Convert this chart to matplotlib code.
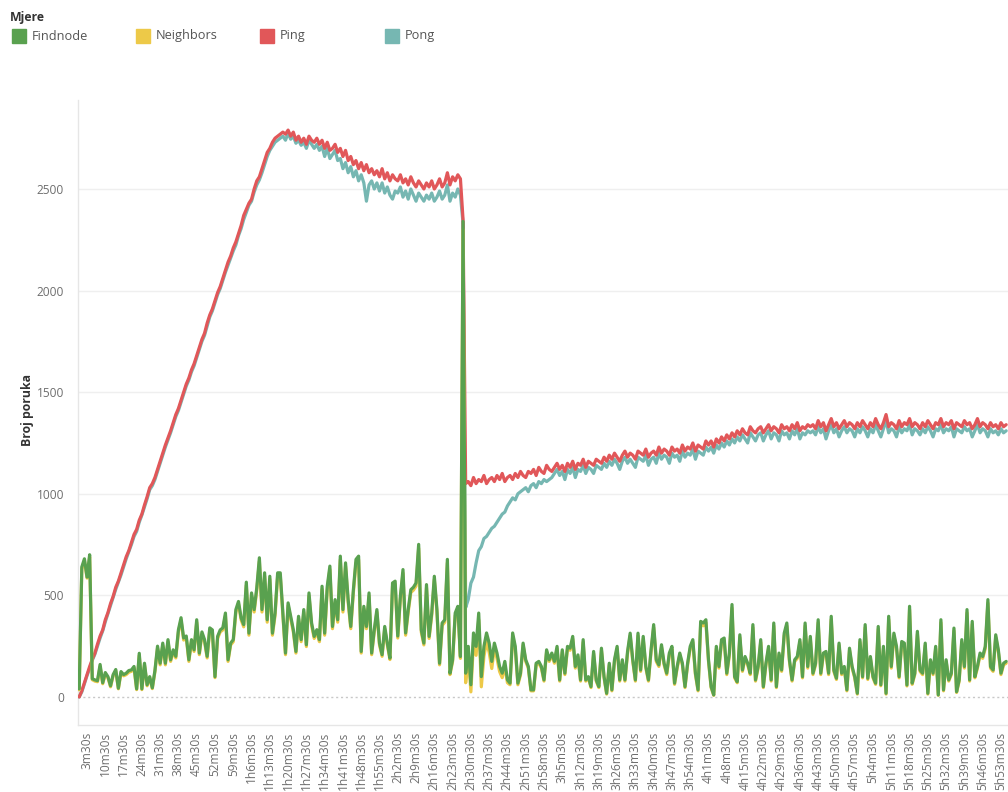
import matplotlib
matplotlib.use("Agg")
import matplotlib.pyplot as plt
from matplotlib.patches import Rectangle
import numpy as np

plt.rcParams['font.family'] = ['Open Sans', 'DejaVu Sans']

# ---- data: one value per minute, sample i = minute i + 30 s ----
findnode = [
    40, 640, 680, 590, 700, 90, 84, 80, 160, 70,
    120, 100, 55, 110, 135, 43, 125, 110, 117, 130,
    133, 150, 40, 215, 40, 166, 60, 100, 45, 130,
    250, 166, 265, 166, 282, 183, 232, 200, 331, 390,
    290, 300, 183, 282, 232, 380, 216, 320, 282, 200,
    340, 330, 100, 298, 330, 340, 413, 183, 265, 282,
    430, 470, 390, 356, 565, 314, 512, 430, 537, 685,
    430, 611, 380, 594, 314, 413, 611, 611, 413, 216,
    463, 397, 331, 224, 397, 282, 430, 257, 512, 364,
    298, 331, 282, 545, 314, 545, 644, 347, 479, 380,
    693, 430, 660, 479, 347, 528, 677, 693, 224, 446,
    347, 512, 216, 331, 430, 265, 208, 347, 265, 191,
    561, 570, 300, 496, 627, 315, 430, 528, 540, 561,
    751, 331, 265, 553, 298, 413, 594, 430, 166, 364,
    380, 677, 117, 183, 413, 446, 199, 2340, 117, 249,
    60, 315, 249, 413, 100, 249, 315, 265, 175, 265,
    216, 150, 117, 175, 84, 68, 315, 249, 68, 117,
    265, 183, 150, 35, 35, 166, 175, 150, 84, 232,
    183, 216, 175, 249, 84, 232, 117, 249, 240, 298,
    150, 207, 84, 282, 84, 100, 51, 224, 84, 51,
    240, 100, 18, 166, 35, 183, 249, 84, 183, 84,
    224, 314, 183, 84, 314, 133, 298, 150, 84, 232,
    356, 183, 158, 257, 166, 117, 216, 249, 68, 150,
    216, 166, 51, 166, 249, 282, 117, 35, 372, 364,
    380, 183, 51, 10, 249, 150, 282, 290, 117, 216,
    455, 100, 75, 306, 133, 199, 166, 117, 356, 84,
    150, 282, 51, 166, 249, 84, 364, 51, 216, 133,
    314, 364, 183, 84, 183, 199, 282, 100, 364, 150,
    298, 117, 166, 380, 117, 216, 224, 117, 397, 133,
    92, 265, 117, 150, 35, 240, 150, 100, 18, 282,
    100, 356, 92, 199, 100, 68, 347, 60, 249, 18,
    397, 150, 314, 249, 100, 273, 265, 59, 446, 68,
    117, 323, 133, 117, 265, 18, 183, 117, 249, 10,
    380, 35, 183, 84, 117, 339, 26, 84, 282, 150,
    430, 84, 372, 100, 150, 216, 199, 249, 479, 150,
    133, 306, 232, 117, 166, 175,
]

neighbors = [
    35, 630, 670, 585, 690, 85, 78, 75, 150, 65,
    112, 95, 50, 104, 128, 40, 118, 104, 110, 122,
    126, 142, 36, 205, 36, 158, 55, 94, 41, 124,
    240, 158, 255, 158, 272, 175, 222, 192, 320, 378,
    280, 290, 175, 272, 224, 368, 208, 310, 272, 192,
    330, 320, 95, 288, 320, 330, 400, 175, 256, 272,
    418, 458, 380, 345, 550, 304, 498, 418, 524, 668,
    418, 596, 368, 580, 304, 400, 596, 596, 400, 208,
    450, 385, 320, 216, 385, 272, 418, 248, 498, 352,
    288, 320, 272, 530, 304, 530, 628, 336, 466, 368,
    676, 418, 644, 466, 336, 514, 660, 676, 216, 434,
    336, 498, 208, 320, 418, 256, 200, 336, 256, 184,
    546, 555, 290, 482, 610, 304, 418, 514, 526, 546,
    732, 320, 256, 538, 288, 400, 578, 418, 158, 352,
    368, 660, 110, 175, 400, 434, 190, 2300, 70, 215,
    25, 270, 205, 380, 50, 200, 270, 220, 140, 240,
    190, 125, 95, 150, 70, 60, 300, 235, 60, 108,
    255, 175, 142, 30, 30, 158, 166, 142, 78, 222,
    175, 206, 166, 238, 78, 222, 110, 238, 230, 286,
    142, 198, 78, 270, 78, 94, 46, 214, 78, 46,
    230, 94, 14, 158, 30, 175, 238, 78, 175, 78,
    214, 302, 175, 78, 302, 126, 286, 142, 78, 222,
    342, 175, 150, 246, 158, 110, 206, 238, 62, 142,
    206, 158, 46, 158, 238, 270, 110, 30, 358, 350,
    366, 175, 46, 8, 238, 142, 270, 278, 110, 206,
    438, 94, 70, 294, 126, 190, 158, 110, 342, 78,
    142, 270, 46, 158, 238, 78, 350, 46, 206, 126,
    302, 350, 175, 78, 175, 190, 270, 94, 350, 142,
    286, 110, 158, 366, 110, 206, 214, 110, 382, 126,
    86, 254, 110, 142, 30, 230, 142, 94, 14, 270,
    94, 342, 86, 190, 94, 62, 334, 55, 238, 14,
    382, 142, 302, 238, 94, 262, 254, 54, 430, 62,
    110, 310, 126, 110, 254, 14, 175, 110, 238, 8,
    366, 30, 175, 78, 110, 326, 22, 78, 270, 142,
    414, 78, 358, 94, 142, 206, 190, 238, 462, 142,
    126, 294, 222, 110, 158, 166,
]

ping = [
    0, 30, 70, 110, 150, 185, 215, 260, 300, 330,
    380, 415, 460, 495, 540, 570, 610, 650, 690, 720,
    760, 800, 825, 870, 900, 945, 985, 1030, 1050, 1080,
    1120, 1160, 1200, 1240, 1275, 1310, 1350, 1390, 1420, 1460,
    1500, 1540, 1570, 1610, 1640, 1680, 1720, 1760, 1790, 1840,
    1880, 1910, 1950, 1990, 2020, 2060, 2100, 2140, 2170, 2210,
    2240, 2280, 2320, 2370, 2400, 2430, 2450, 2500, 2540, 2560,
    2600, 2640, 2680, 2700, 2730, 2750, 2760, 2770, 2780, 2770,
    2790, 2760, 2780, 2740, 2760, 2730, 2750, 2720, 2760, 2740,
    2730, 2750, 2720, 2740, 2700, 2730, 2690, 2700, 2720, 2680,
    2700, 2660, 2690, 2640, 2660, 2620, 2640, 2600, 2630, 2590,
    2620, 2580, 2600, 2570, 2590, 2560, 2600, 2550, 2580, 2540,
    2570, 2550, 2540, 2570, 2530, 2550, 2520, 2560, 2530, 2510,
    2540, 2520, 2500, 2530, 2510, 2540, 2500, 2520, 2550, 2510,
    2530, 2580, 2520, 2560, 2540, 2570, 2550, 2350, 1050, 1060,
    1040, 1080, 1050, 1070, 1060, 1090, 1050, 1070, 1080, 1060,
    1090, 1070, 1100, 1060, 1080, 1090, 1070, 1100, 1080, 1110,
    1090, 1080, 1110, 1100, 1120, 1090, 1130, 1110, 1100, 1140,
    1120, 1110, 1130, 1150, 1120, 1140, 1110, 1150, 1130, 1160,
    1120, 1150, 1140, 1170, 1130, 1160, 1150, 1140, 1170, 1160,
    1150, 1180, 1160, 1190, 1170, 1200, 1180, 1160, 1190, 1210,
    1180, 1200, 1190, 1170, 1210, 1200, 1190, 1220, 1180, 1200,
    1210, 1190, 1230, 1200, 1220, 1210, 1190, 1230, 1210, 1220,
    1200, 1240, 1210, 1230, 1220, 1250, 1210, 1240, 1230, 1220,
    1260, 1240, 1260, 1230, 1270, 1250, 1280, 1260, 1290, 1270,
    1300, 1280, 1310, 1290, 1320, 1300, 1290, 1330, 1310, 1300,
    1320, 1330, 1300, 1320, 1340, 1310, 1330, 1320, 1300, 1340,
    1320, 1330, 1310, 1340, 1320, 1350, 1310, 1330, 1320, 1340,
    1330, 1340, 1320, 1360, 1330, 1350, 1310, 1340, 1370, 1330,
    1350, 1320, 1340, 1360, 1330, 1350, 1340, 1320, 1350, 1330,
    1360, 1340, 1320, 1350, 1330, 1370, 1340, 1320, 1350, 1390,
    1330, 1350, 1340, 1320, 1360, 1330, 1350, 1340, 1370, 1330,
    1350, 1340, 1320, 1350, 1330, 1360, 1340, 1320, 1350, 1340,
    1370, 1330, 1350, 1340, 1360, 1320, 1350, 1340, 1330, 1360,
    1340, 1350, 1320, 1340, 1370, 1330, 1350, 1340, 1320, 1350,
    1330, 1340, 1320, 1350, 1330, 1340,
]

pong = [
    0, 25, 65, 105, 140, 180, 210, 250, 290, 325,
    370, 410, 450, 490, 530, 565, 600, 640, 680, 715,
    750, 790, 815, 860, 895, 935, 975, 1020, 1040, 1070,
    1110, 1150, 1190, 1230, 1265, 1300, 1340, 1380, 1410, 1450,
    1490, 1530, 1560, 1600, 1630, 1670, 1710, 1750, 1780, 1825,
    1870, 1900, 1940, 1980, 2010, 2050, 2090, 2125, 2160, 2195,
    2225, 2270, 2305, 2350, 2385, 2420, 2440, 2485, 2520, 2545,
    2580, 2620, 2660, 2690, 2710, 2730, 2740, 2750, 2760, 2740,
    2775, 2745, 2760, 2725, 2740, 2715, 2730, 2700, 2740, 2720,
    2700, 2720, 2690, 2710, 2660, 2700, 2650, 2670, 2690, 2640,
    2650, 2600, 2630, 2580, 2610, 2560, 2590, 2540, 2570, 2530,
    2440, 2520, 2540, 2500, 2530, 2490, 2530, 2480, 2510, 2470,
    2450, 2490, 2480, 2510, 2460, 2490, 2450, 2500, 2470, 2440,
    2480, 2460, 2440, 2470, 2450, 2480, 2440, 2460, 2490, 2450,
    2470, 2520, 2440, 2480, 2460, 2500, 2470, 2330, 440, 480,
    560, 590, 660, 720, 740, 780, 790, 810, 830, 840,
    860, 880, 900, 910, 940, 960, 980, 970, 1000, 1010,
    1020, 1030, 1010, 1040, 1050, 1030, 1060, 1050, 1070, 1060,
    1070, 1080, 1100, 1120, 1090, 1110, 1070, 1120, 1100, 1130,
    1080, 1120, 1110, 1140, 1100, 1130, 1120, 1100, 1140, 1130,
    1120, 1150, 1130, 1160, 1140, 1170, 1150, 1120, 1160, 1180,
    1150, 1170, 1150, 1130, 1180, 1170, 1160, 1190, 1140, 1170,
    1180, 1150, 1200, 1170, 1190, 1180, 1150, 1200, 1180, 1190,
    1160, 1210, 1180, 1200, 1190, 1220, 1170, 1210, 1200, 1190,
    1230, 1210, 1230, 1200, 1240, 1220, 1250, 1230, 1260, 1240,
    1270, 1250, 1280, 1260, 1290, 1270, 1250, 1300, 1280, 1260,
    1290, 1300, 1260, 1290, 1310, 1270, 1300, 1290, 1260, 1310,
    1290, 1300, 1270, 1310, 1290, 1320, 1270, 1300, 1290, 1310,
    1300, 1310, 1290, 1330, 1300, 1320, 1270, 1310, 1340, 1300,
    1320, 1280, 1310, 1330, 1300, 1320, 1310, 1280, 1320, 1300,
    1330, 1310, 1280, 1320, 1300, 1340, 1310, 1280, 1320, 1360,
    1300, 1320, 1310, 1280, 1330, 1300, 1320, 1310, 1340, 1290,
    1320, 1310, 1290, 1320, 1300, 1330, 1310, 1280, 1320, 1310,
    1340, 1300, 1320, 1310, 1330, 1280, 1320, 1310, 1300, 1330,
    1310, 1320, 1280, 1310, 1340, 1300, 1320, 1310, 1280, 1320,
    1300, 1310, 1290, 1320, 1300, 1310,
]

tick_minutes = list(range(3, 354, 7))
tick_labels = [
    "3m30s", "10m30s", "17m30s", "24m30s", "31m30s", "38m30s", "45m30s",
    "52m30s", "59m30s", "1h6m30s", "1h13m30s", "1h20m30s", "1h27m30s",
    "1h34m30s", "1h41m30s", "1h48m30s", "1h55m30s", "2h2m30s", "2h9m30s",
    "2h16m30s", "2h23m30s", "2h30m30s", "2h37m30s", "2h44m30s", "2h51m30s",
    "2h58m30s", "3h5m30s", "3h12m30s", "3h19m30s", "3h26m30s", "3h33m30s",
    "3h40m30s", "3h47m30s", "3h54m30s", "4h1m30s", "4h8m30s", "4h15m30s",
    "4h22m30s", "4h29m30s", "4h36m30s", "4h43m30s", "4h50m30s", "4h57m30s",
    "5h4m30s", "5h11m30s", "5h18m30s", "5h25m30s", "5h32m30s", "5h39m30s",
    "5h46m30s", "5h53m30s",
]
yticks = [0, 500, 1000, 1500, 2000, 2500]

series_names = ["Findnode", "Neighbors", "Ping", "Pong"]
colors = {"Findnode": "#59a14f", "Neighbors": "#edc948",
          "Ping": "#e15759", "Pong": "#76b7b2"}

# ---- figure ----
W, H = 1008, 792
fig = plt.figure(figsize=(W / 100, H / 100), dpi=100)
ax_l, ax_r, ax_t, ax_b = 78, 1008, 100, 725
ax = fig.add_axes([ax_l / W, (H - ax_b) / H, (ax_r - ax_l) / W, (ax_b - ax_t) / H])

lw = 2.3
data = {"Pong": pong, "Ping": ping, "Neighbors": neighbors, "Findnode": findnode}
for z, name in enumerate(["Pong", "Ping", "Neighbors", "Findnode"]):
    vals = data[name]
    ax.plot(np.arange(len(vals)), vals, color=colors[name], lw=lw,
            solid_joinstyle="round", solid_capstyle="round", zorder=3 + z)

ax.set_xlim(-0.46, 355.7)
ax.set_ylim(-138, 2938)

for v in yticks[1:]:
    ax.axhline(v, color="#efefef", lw=1.0, zorder=1)
ax.axhline(0, color="#c8c8c8", lw=1.0, ls=(0, (1.5, 2)), zorder=2)

ax.set_yticks(yticks)
ax.set_yticklabels([str(v) for v in yticks])
ax.set_xticks(tick_minutes)
ax.set_xticklabels(tick_labels, rotation=90, va="top", ha="center")
ax.tick_params(axis="both", length=0, colors="#6e6e6e", labelsize=8.6)
ax.tick_params(axis="y", pad=10)
ax.tick_params(axis="x", pad=5)

for s in ["top", "right"]:
    ax.spines[s].set_visible(False)
ax.spines["left"].set_color("#e6e6e6")
ax.spines["bottom"].set_color("#e6e6e6")
ax.spines["left"].set_linewidth(1.0)
ax.spines["bottom"].set_linewidth(1.0)

fig.text(27 / W, 1 - 410 / H, "Broj poruka", rotation=90, ha="center", va="center",
         fontsize=8.8, color="#333333", fontweight="bold")

# ---- legend ----
fig.text(10 / W, 1 - 17 / H, "Mjere", ha="left", va="center", fontsize=8.8,
         color="#333333", fontweight="bold")
leg_x = [12, 136, 260, 385]
for name, x0 in zip(series_names, leg_x):
    fig.patches.append(Rectangle((x0 / W, 1 - 43 / H), 14 / W, 14 / H,
                                 transform=fig.transFigure, color=colors[name]))
    fig.text((x0 + 20) / W, 1 - 36 / H, name, ha="left", va="center",
             fontsize=9.2, color="#555555")

fig.savefig("out.png", dpi=100)
